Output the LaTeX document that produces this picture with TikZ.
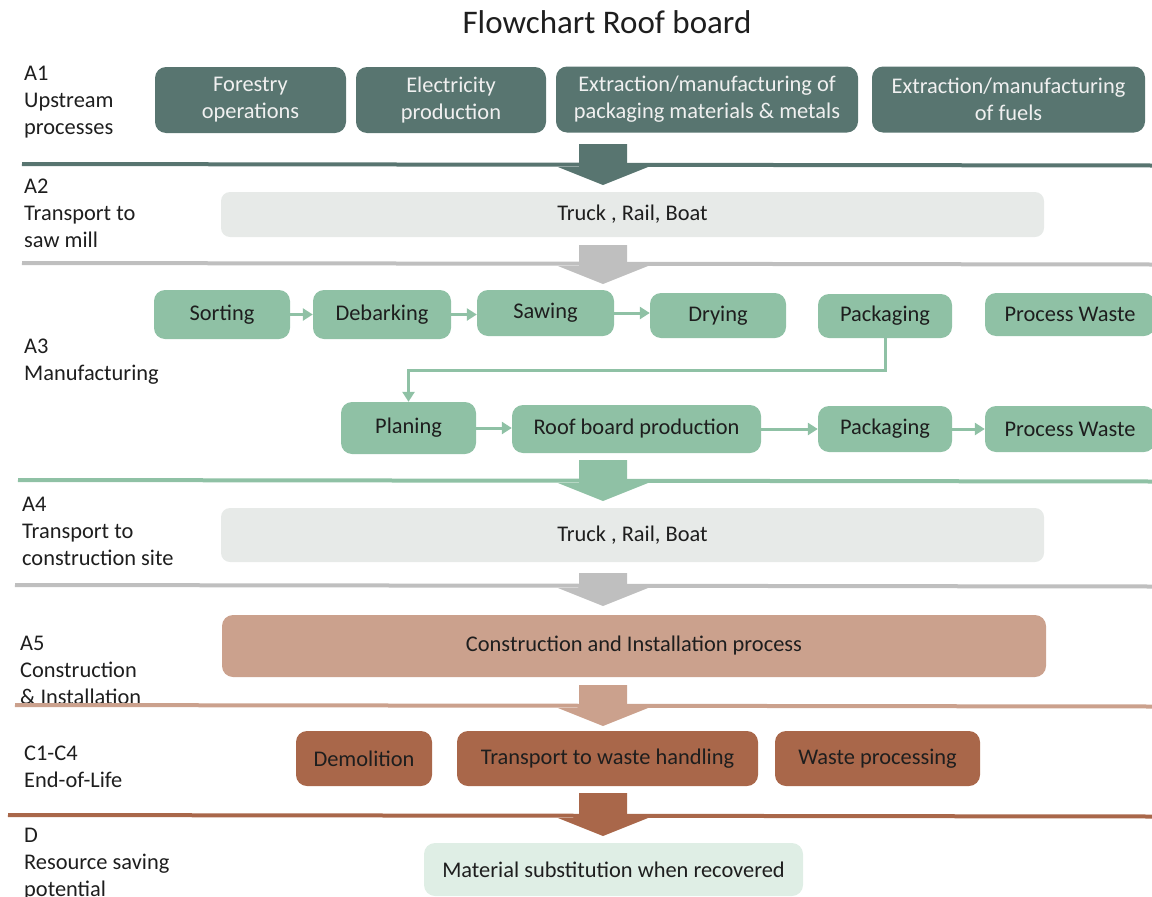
\documentclass[tikz,border=0pt]{standalone}
\usepackage{fontspec}
\setmainfont{Carlito}
\usetikzlibrary{arrows.meta}
\definecolor{upteal}{HTML}{587570}
\definecolor{transgrey}{HTML}{E7EAE8}
\definecolor{sepgrey}{HTML}{BFBFBF}
\definecolor{mfgreen}{HTML}{8FC1A5}
\definecolor{installtan}{HTML}{CBA18D}
\definecolor{eolbrown}{HTML}{A9674A}
\definecolor{subgreen}{HTML}{DFEEE5}
\definecolor{textdark}{HTML}{1E1E1E}

\begin{document}
\begin{tikzpicture}[x=1pt, y=-1pt,
  every node/.style={font=\fontsize{22.4}{27}\selectfont, text=textdark, inner sep=0pt},
  stage/.style={anchor=north west, align=left},
  box/.style={rounded corners=11pt, align=center},
  upbox/.style={box, fill=upteal, text=white!94!black},
  transbox/.style={box, fill=transgrey, rounded corners=9pt},
  mfbox/.style={box, fill=mfgreen},
  eolbox/.style={box, fill=eolbrown},
  flow/.style={draw=mfgreen, line width=3pt, -{Triangle[length=10pt,width=12pt]}}]
\useasboundingbox (0,0) rectangle (1152,897);

\node[font=\fontsize{33}{38}\selectfont] (title) at (607,22) {Flowchart Roof board};

\node[stage] (lblAone) at (24,66) {A1\\Upstream\\processes};
\node[stage] (lblAtwo) at (24,179) {A2\\Transport to\\saw mill};
\node[stage] (lblAthree) at (24,338.5) {A3\\Manufacturing};
\node[stage] (lblAfour) at (22,496.5) {A4\\Transport to\\construction site};
\node[stage] (lblAfive) at (20,636) {A5\\Construction\\\& Installation};
\node[stage] (lblC) at (24,746) {C1-C4\\End-of-Life};
\node[stage] (lblD) at (24,828) {D\\Resource saving\\potential};

\foreach \ly/\lx/\st/\clr in {164/22/144/upteal, 263/22/245/sepgrey, 480/18/460/mfgreen, 585/15/573/sepgrey, 705/15/685/installtan, 815/8/793/eolbrown}{
  \draw[\clr, line width=4pt] (\lx,\ly) -- (1152,\ly+1.5);
  \fill[\clr] (579,\st) -- (627,\st) -- (627,\ly+3) -- (648,\ly+3) -- (603,\ly+21) -- (558,\ly+3) -- (579,\ly+3) -- cycle;
}

\node[upbox, minimum width=191pt, minimum height=66pt] (forestry) at (250.5,100) {Forestry\\operations};
\node[upbox, minimum width=190pt, minimum height=66pt] (electricity) at (451,100) {Electricity\\production};
\node[upbox, minimum width=302pt, minimum height=66pt] (packmat) at (707,99.5) {Extraction/manufacturing of\\packaging materials \& metals};
\node[upbox, minimum width=273pt, minimum height=66pt] (fuels) at (1008.5,99.5) {Extraction/manufacturing\\of fuels};

\node[transbox, minimum width=823pt, minimum height=45pt] (sawtrans) at (632.5,214.5) {Truck , Rail, Boat};

\node[mfbox, minimum width=136pt, minimum height=49pt] (sorting) at (222,314.5) {Sorting};
\node[mfbox, minimum width=138pt, minimum height=49pt] (debarking) at (382,314.5) {Debarking};
\node[mfbox, minimum width=137pt, minimum height=46pt] (sawing) at (545.5,313) {Sawing};
\node[mfbox, minimum width=136pt, minimum height=45pt] (drying) at (718,315.5) {Drying};
\node[mfbox, minimum width=134pt, minimum height=44pt] (packtop) at (885,316) {Packaging};
\node[mfbox, minimum width=170pt, minimum height=43pt] (wastetop) at (1070,314.5) {Process Waste};

\node[mfbox, minimum width=135pt, minimum height=52pt] (planing) at (408.5,428) {Planing};
\node[mfbox, minimum width=249pt, minimum height=48pt] (roofprod) at (636.5,429) {Roof board production};
\node[mfbox, minimum width=134pt, minimum height=46pt] (packbot) at (885,429) {Packaging};
\node[mfbox, minimum width=170pt, minimum height=46pt] (wastebot) at (1070,429) {Process Waste};

\coordinate (bend) at (0,370);
\draw[flow] (sorting.east) -- (debarking.west |- sorting.east);
\draw[flow] (debarking.east) -- (sawing.west |- debarking.east);
\draw[flow] (sawing.east) -- (drying.west |- sawing.east);
\draw[flow] (packtop.south) -- (packtop.south |- bend) -| (planing.north);
\draw[flow] (planing.east) -- (roofprod.west |- planing.east);
\draw[flow] (roofprod.east) -- (packbot.west |- roofprod.east);
\draw[flow] (packbot.east) -- (wastebot.west |- packbot.east);

\node[transbox, minimum width=823pt, minimum height=54pt] (sitetrans) at (632.5,535) {Truck , Rail, Boat};

\node[box, fill=installtan, minimum width=824pt, minimum height=62pt] (install) at (634,646) {Construction and Installation process};

\node[eolbox, minimum width=136pt, minimum height=55pt] (demolition) at (364,758.5) {Demolition};
\node[eolbox, minimum width=301pt, minimum height=55pt] (wastetrans) at (607.5,758.5) {Transport to waste handling};
\node[eolbox, minimum width=205pt, minimum height=55pt] (wasteproc) at (877.5,758.5) {Waste processing};

\node[box, fill=subgreen, minimum width=379pt, minimum height=53pt] (substitute) at (613.5,869.5) {Material substitution when recovered};
\end{tikzpicture}
\end{document}
